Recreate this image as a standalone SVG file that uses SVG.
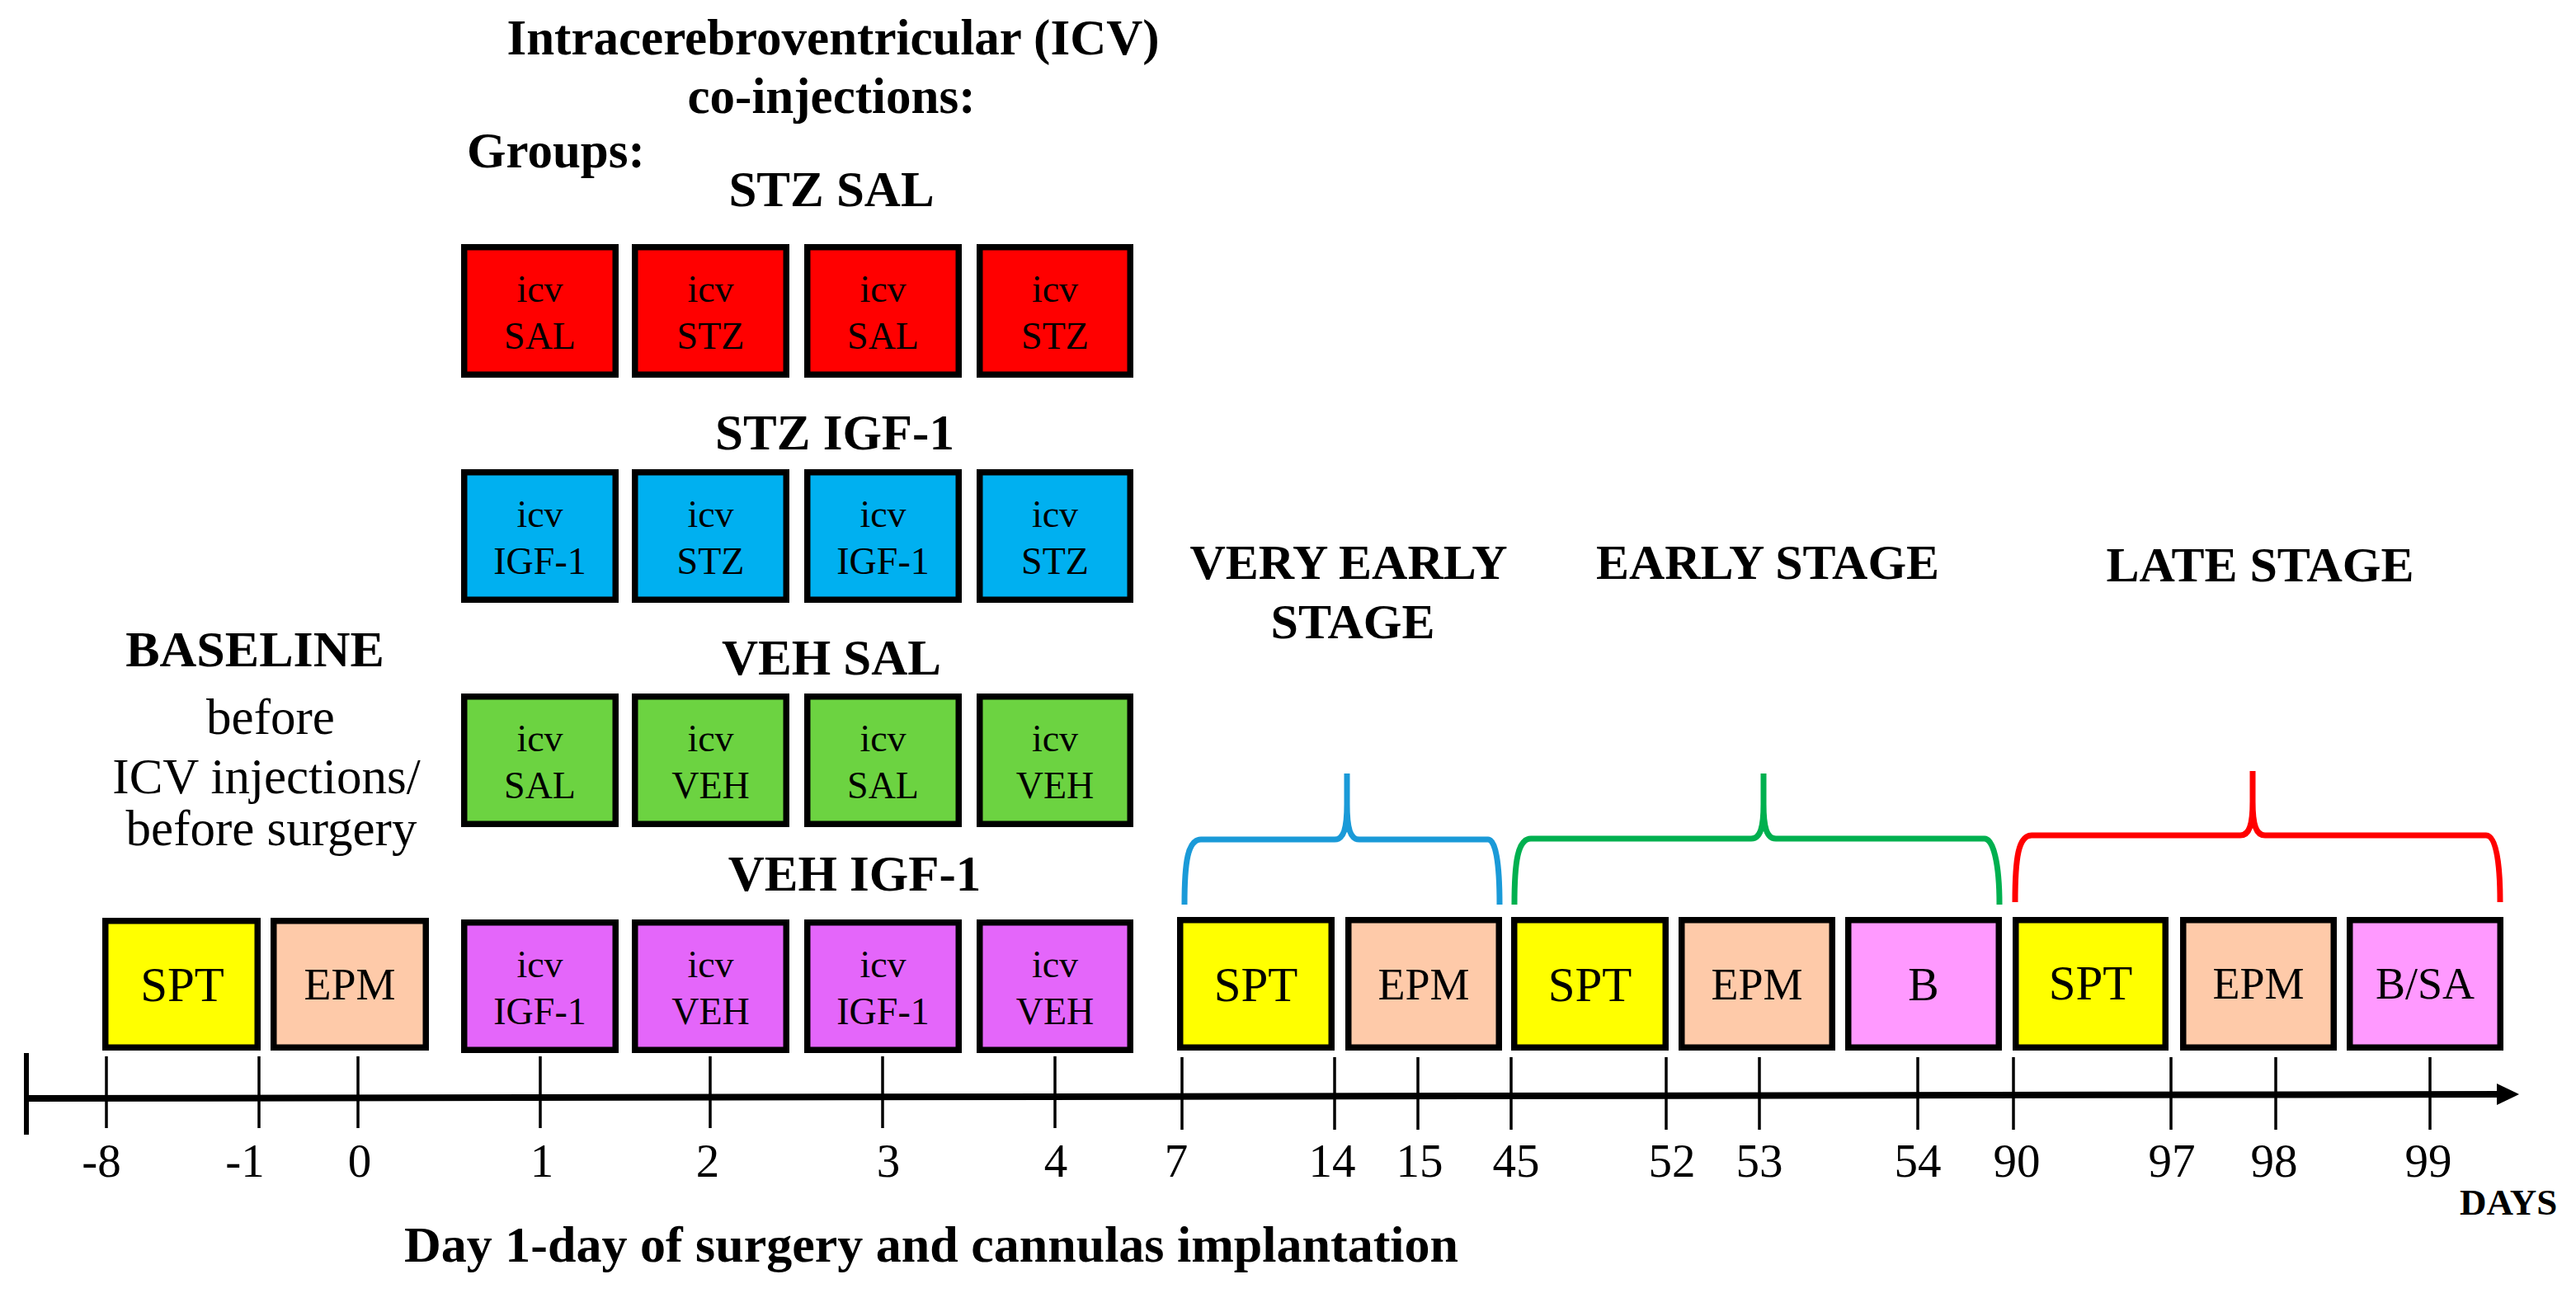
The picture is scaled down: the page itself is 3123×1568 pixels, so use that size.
<svg xmlns="http://www.w3.org/2000/svg" width="3123" height="1568" viewBox="0 0 3123 1568">
<style>
.bx{stroke:#000;stroke-width:7.5}
.red{fill:#ff0000}.blue{fill:#00b0f0}.green{fill:#6cd341}.purple{fill:#e466fa}
.yellow{fill:#ffff00}.peach{fill:#fecaa9}.pink{fill:#ff99ff}
text{font-family:"Liberation Serif","Times New Roman",serif;fill:#000}
.h{font-weight:bold;font-size:61px}
.s{font-weight:bold;font-size:60px;text-anchor:middle}
.c{text-anchor:middle}
.in{font-size:46px;text-anchor:middle}
.num{font-size:57px;text-anchor:middle}
.tick{stroke:#000;stroke-width:3.5}
.brace{fill:none;stroke-width:7}
</style>
<rect x="0" y="0" width="3123" height="1568" fill="#fff"/>

<g id="titles">
<text class="h c" x="1010" y="66">Intracerebroventricular (ICV)</text>
<text class="h c" x="1008" y="137">co-injections:</text>
<text class="h" x="566" y="203">Groups:</text>
<text class="h c" x="1008" y="250">STZ SAL</text>
<text class="h c" x="1012" y="545">STZ IGF-1</text>
<text class="h c" x="1008" y="818">VEH SAL</text>
<text class="h c" x="1036" y="1080">VEH IGF-1</text>
</g>

<g id="baseline-label">
<text class="h c" x="309" y="808" style="font-size:62px">BASELINE</text>
<text class="c" style="font-size:61px" x="328" y="890">before</text>
<text class="c" style="font-size:61px" x="323" y="962">ICV injections/</text>
<text class="c" style="font-size:61px" x="329" y="1025">before surgery</text>
</g>

<g id="stage-labels">
<text class="s" x="1635" y="702">VERY EARLY</text>
<text class="s" x="1640" y="774">STAGE</text>
<text class="s" x="2143" y="702">EARLY STAGE</text>
<text class="s" x="2740" y="705">LATE STAGE</text>
</g>

<g id="row-stz-sal">
<g id="stzsal-1"><rect class="bx red" x="562.75" y="299.75" width="183.5" height="154.5"/><text class="in" x="654.5" y="366">icv</text><text class="in" x="654.5" y="423">SAL</text></g>
<g id="stzsal-2"><rect class="bx red" x="769.75" y="299.75" width="183.5" height="154.5"/><text class="in" x="861.5" y="366">icv</text><text class="in" x="861.5" y="423">STZ</text></g>
<g id="stzsal-3"><rect class="bx red" x="978.75" y="299.75" width="183.5" height="154.5"/><text class="in" x="1070.5" y="366">icv</text><text class="in" x="1070.5" y="423">SAL</text></g>
<g id="stzsal-4"><rect class="bx red" x="1187.75" y="299.75" width="182.5" height="154.5"/><text class="in" x="1279" y="366">icv</text><text class="in" x="1279" y="423">STZ</text></g>
</g>

<g id="row-stz-igf">
<g id="stzigf-1"><rect class="bx blue" x="562.75" y="572.75" width="183.5" height="154.5"/><text class="in" x="654.5" y="639">icv</text><text class="in" x="654.5" y="696">IGF-1</text></g>
<g id="stzigf-2"><rect class="bx blue" x="769.75" y="572.75" width="183.5" height="154.5"/><text class="in" x="861.5" y="639">icv</text><text class="in" x="861.5" y="696">STZ</text></g>
<g id="stzigf-3"><rect class="bx blue" x="978.75" y="572.75" width="183.5" height="154.5"/><text class="in" x="1070.5" y="639">icv</text><text class="in" x="1070.5" y="696">IGF-1</text></g>
<g id="stzigf-4"><rect class="bx blue" x="1187.75" y="572.75" width="182.5" height="154.5"/><text class="in" x="1279" y="639">icv</text><text class="in" x="1279" y="696">STZ</text></g>
</g>

<g id="row-veh-sal">
<g id="vehsal-1"><rect class="bx green" x="562.75" y="844.75" width="183.5" height="154.5"/><text class="in" x="654.5" y="911">icv</text><text class="in" x="654.5" y="968">SAL</text></g>
<g id="vehsal-2"><rect class="bx green" x="769.75" y="844.75" width="183.5" height="154.5"/><text class="in" x="861.5" y="911">icv</text><text class="in" x="861.5" y="968">VEH</text></g>
<g id="vehsal-3"><rect class="bx green" x="978.75" y="844.75" width="183.5" height="154.5"/><text class="in" x="1070.5" y="911">icv</text><text class="in" x="1070.5" y="968">SAL</text></g>
<g id="vehsal-4"><rect class="bx green" x="1187.75" y="844.75" width="182.5" height="154.5"/><text class="in" x="1279" y="911">icv</text><text class="in" x="1279" y="968">VEH</text></g>
</g>

<g id="row-veh-igf">
<g id="vehigf-1"><rect class="bx purple" x="562.75" y="1118.75" width="183.5" height="154.5"/><text class="in" x="654.5" y="1185">icv</text><text class="in" x="654.5" y="1242">IGF-1</text></g>
<g id="vehigf-2"><rect class="bx purple" x="769.75" y="1118.75" width="183.5" height="154.5"/><text class="in" x="861.5" y="1185">icv</text><text class="in" x="861.5" y="1242">VEH</text></g>
<g id="vehigf-3"><rect class="bx purple" x="978.75" y="1118.75" width="183.5" height="154.5"/><text class="in" x="1070.5" y="1185">icv</text><text class="in" x="1070.5" y="1242">IGF-1</text></g>
<g id="vehigf-4"><rect class="bx purple" x="1187.75" y="1118.75" width="182.5" height="154.5"/><text class="in" x="1279" y="1185">icv</text><text class="in" x="1279" y="1242">VEH</text></g>
</g>

<g id="baseline-tests">
<g id="base-spt"><rect class="bx yellow" x="127.75" y="1116.75" width="184.5" height="153.5"/><text class="c" style="font-size:59px" x="221" y="1214">SPT</text></g>
<g id="base-epm"><rect class="bx peach" x="331.75" y="1116.75" width="184.5" height="153.5"/><text class="c" style="font-size:54px" x="424" y="1212">EPM</text></g>
</g>

<g id="stage-tests">
<g id="ve-spt"><rect class="bx yellow" x="1430.75" y="1115.75" width="183.5" height="154.5"/><text class="c" style="font-size:59px" x="1522.5" y="1214">SPT</text></g>
<g id="ve-epm"><rect class="bx peach" x="1634.75" y="1115.75" width="182.5" height="154.5"/><text class="c" style="font-size:54px" x="1726" y="1212">EPM</text></g>
<g id="e-spt"><rect class="bx yellow" x="1835.75" y="1115.75" width="183.5" height="154.5"/><text class="c" style="font-size:59px" x="1927.5" y="1214">SPT</text></g>
<g id="e-epm"><rect class="bx peach" x="2038.75" y="1115.75" width="182.5" height="154.5"/><text class="c" style="font-size:54px" x="2130" y="1212">EPM</text></g>
<g id="e-b"><rect class="bx pink" x="2240.75" y="1115.75" width="182.5" height="154.5"/><text class="c" style="font-size:56px" x="2332" y="1213">B</text></g>
<g id="l-spt"><rect class="bx yellow" x="2443.75" y="1115.75" width="181.5" height="154.5"/><text class="c" style="font-size:59px" x="2534.5" y="1212">SPT</text></g>
<g id="l-epm"><rect class="bx peach" x="2646.75" y="1115.75" width="182.5" height="154.5"/><text class="c" style="font-size:54px" x="2738" y="1211">EPM</text></g>
<g id="l-bsa"><rect class="bx pink" x="2848.75" y="1115.75" width="182.5" height="154.5"/><text class="c" style="font-size:54px" x="2940" y="1211">B/SA</text></g>
</g>

<g id="connectors">
<path class="brace" stroke="#1a9ad8" d="M1436,1097 C1436,1045 1440,1018 1456,1018 L1618,1018 C1629,1018 1633,1005 1633,975 L1633,938 L1633,975 C1633,1005 1637,1018 1648,1018 L1804,1018 C1813,1018 1818,1045 1818,1097"/>
<path class="brace" stroke="#00b04f" d="M1836,1097 C1836,1045 1840,1017 1856,1017 L2123,1017 C2134,1017 2138,1004 2138,975 L2138,938 L2138,975 C2138,1004 2142,1017 2153,1017 L2406,1017 C2416,1017 2424,1045 2424,1097"/>
<path class="brace" stroke="#ff0000" d="M2443,1094 C2443,1040 2447,1013 2463,1013 L2716,1013 C2727,1013 2731,1000 2731,972 L2731,935 L2731,972 C2731,1000 2735,1013 2746,1013 L3014,1013 C3025,1013 3031,1040 3031,1094"/>
<line x1="32" y1="1277" x2="32" y2="1376" stroke="#000" stroke-width="6"/>
<line x1="32" y1="1332" x2="3032" y2="1327" stroke="#000" stroke-width="8"/>
<polygon points="3027,1314 3054,1327 3027,1340" fill="#000"/>
<g id="ticks">
<line class="tick" x1="129" y1="1281" x2="129" y2="1368"/>
<line class="tick" x1="314" y1="1281" x2="314" y2="1368"/>
<line class="tick" x1="434" y1="1281" x2="434" y2="1368"/>
<line class="tick" x1="655" y1="1281" x2="655" y2="1368"/>
<line class="tick" x1="861" y1="1281" x2="861" y2="1368"/>
<line class="tick" x1="1070" y1="1281" x2="1070" y2="1368"/>
<line class="tick" x1="1279" y1="1281" x2="1279" y2="1368"/>
<line class="tick" x1="1433" y1="1282" x2="1433" y2="1370"/>
<line class="tick" x1="1618" y1="1282" x2="1618" y2="1370"/>
<line class="tick" x1="1719" y1="1282" x2="1719" y2="1370"/>
<line class="tick" x1="1832" y1="1282" x2="1832" y2="1370"/>
<line class="tick" x1="2020" y1="1282" x2="2020" y2="1370"/>
<line class="tick" x1="2133" y1="1282" x2="2133" y2="1370"/>
<line class="tick" x1="2325" y1="1282" x2="2325" y2="1370"/>
<line class="tick" x1="2441" y1="1282" x2="2441" y2="1370"/>
<line class="tick" x1="2632" y1="1282" x2="2632" y2="1370"/>
<line class="tick" x1="2759" y1="1282" x2="2759" y2="1370"/>
<line class="tick" x1="2946" y1="1282" x2="2946" y2="1370"/>
</g>
</g>

<g id="axis-labels">
<text class="num" x="123" y="1427">-8</text>
<text class="num" x="297" y="1427">-1</text>
<text class="num" x="436" y="1427">0</text>
<text class="num" x="657" y="1427">1</text>
<text class="num" x="858" y="1427">2</text>
<text class="num" x="1077" y="1427">3</text>
<text class="num" x="1280" y="1427">4</text>
<text class="num" x="1426" y="1427">7</text>
<text class="num" x="1615" y="1427">14</text>
<text class="num" x="1721" y="1427">15</text>
<text class="num" x="1838" y="1427">45</text>
<text class="num" x="2027" y="1427">52</text>
<text class="num" x="2133" y="1427">53</text>
<text class="num" x="2325" y="1427">54</text>
<text class="num" x="2445" y="1427">90</text>
<text class="num" x="2633" y="1427">97</text>
<text class="num" x="2757" y="1427">98</text>
<text class="num" x="2944" y="1427">99</text>
<text style="font-weight:bold;font-size:45px" x="2982" y="1473">DAYS</text>
<text class="h" x="490" y="1530" style="font-size:62px">Day 1-day of surgery and cannulas implantation</text>
</g>
</svg>
